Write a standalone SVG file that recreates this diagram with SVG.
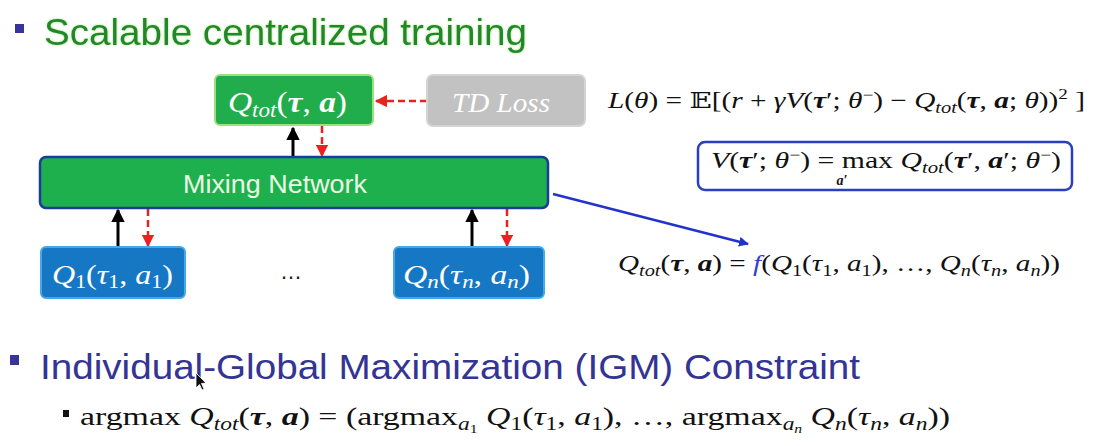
<svg xmlns="http://www.w3.org/2000/svg" width="1095" height="446" viewBox="0 0 1095 446">
  <defs>
    <style>
      .sans { font-family: "Liberation Sans", Arial, sans-serif; }
      .math { font-family: "Liberation Serif", "DejaVu Serif", serif; font-style: italic; }
      .up { font-style: normal; }
      .bi { font-weight: bold; font-style: italic; }
      .head1 { font-size: 36px; fill: #23862a; }
      .head2 { font-size: 35px; fill: #343494; }
      .boxtext { fill: #ffffff; }
      .formula { font-size: 23px; fill: #111111; }
      .bullet { fill: #37359a; }
      .qtot { fill: #22ad4c; stroke: #9be27e; stroke-width: 2; }
      .mix { fill: #1eb04c; stroke: #1b3c9e; stroke-width: 2.5; }
      .agent { fill: #1677c4; stroke: #44a9e8; stroke-width: 2; }
      .loss { fill: #c2c2c2; stroke: #d4d4d4; stroke-width: 2; }
      .fwd { stroke: #000000; stroke-width: 3; fill: none; }
      .grad { stroke: #e8231f; stroke-width: 2.5; stroke-dasharray: 7 4; fill: none; }
      .link { stroke: #2233cc; stroke-width: 2.5; fill: none; }
    </style>
    <marker id="head-black" viewBox="0 0 10 10" refX="9" refY="5" markerWidth="4.5" markerHeight="4.5" orient="auto">
      <path d="M0,0 L10,5 L0,10 z" fill="#000000"/>
    </marker>
    <marker id="head-red" viewBox="0 0 10 10" refX="9" refY="5" markerWidth="5" markerHeight="5" orient="auto">
      <path d="M0,0 L10,5 L0,10 z" fill="#e8231f"/>
    </marker>
    <marker id="head-blue" viewBox="0 0 10 10" refX="9" refY="5" markerWidth="4" markerHeight="4" orient="auto">
      <path d="M0,0 L10,5 L0,10 z" fill="#2233cc"/>
    </marker>
    <filter id="glow" x="-5%" y="-30%" width="110%" height="160%">
      <feGaussianBlur in="SourceAlpha" stdDeviation="1.2" result="b"/>
      <feFlood flood-color="#7de05a" flood-opacity="0.8"/>
      <feComposite in2="b" operator="in" result="g"/>
      <feMerge><feMergeNode in="g"/><feMergeNode in="SourceGraphic"/></feMerge>
    </filter>
  </defs>

  <rect width="1095" height="446" fill="#ffffff"/>

  <!-- section heading: centralized training -->
  <g id="heading-training">
    <rect x="15" y="24" width="9" height="9" class="bullet"/>
    <text x="44" y="45" class="sans head1" textLength="483" lengthAdjust="spacingAndGlyphs" filter="url(#glow)">Scalable centralized training</text>
  </g>

  <!-- connectors -->
  <g id="connectors">
    <line x1="427" y1="101" x2="376" y2="101" class="grad" marker-end="url(#head-red)"/>
    <line x1="293" y1="157" x2="293" y2="128" class="fwd" marker-end="url(#head-black)"/>
    <line x1="322" y1="126" x2="322" y2="156" class="grad" marker-end="url(#head-red)"/>
    <line x1="118" y1="247" x2="118" y2="210" class="fwd" marker-end="url(#head-black)"/>
    <line x1="148" y1="209" x2="148" y2="246" class="grad" marker-end="url(#head-red)"/>
    <line x1="472" y1="247" x2="472" y2="210" class="fwd" marker-end="url(#head-black)"/>
    <line x1="507" y1="209" x2="507" y2="246" class="grad" marker-end="url(#head-red)"/>
    <line x1="553" y1="194" x2="748" y2="244" class="link" marker-end="url(#head-blue)"/>
  </g>

  <g id="node-qtot">
    <rect x="215" y="75" width="158" height="50" rx="5" class="qtot"/>
    <text x="228" y="112" class="math boxtext" font-size="29" textLength="119" lengthAdjust="spacingAndGlyphs">Q<tspan font-size="20" dy="5">tot</tspan><tspan class="up" dy="-5">(</tspan><tspan class="bi">τ</tspan><tspan class="up">, </tspan><tspan class="bi">a</tspan><tspan class="up">)</tspan></text>
  </g>

  <g id="node-tdloss">
    <rect x="427" y="75" width="158" height="51" rx="6" class="loss"/>
    <text x="452" y="112" class="math boxtext" font-size="28" textLength="98" lengthAdjust="spacingAndGlyphs">TD Loss</text>
  </g>

  <g id="node-mixing">
    <rect x="40" y="157" width="508" height="51" rx="6" class="mix"/>
    <text x="183" y="193" class="sans" font-size="25" fill="#eafbe6" textLength="184" lengthAdjust="spacingAndGlyphs">Mixing Network</text>
  </g>

  <g id="node-agent-1">
    <rect x="41" y="247" width="144" height="51" rx="5" class="agent"/>
    <text x="52" y="284" class="math boxtext" font-size="28" textLength="121" lengthAdjust="spacingAndGlyphs">Q<tspan font-size="19" class="up" dy="4">1</tspan><tspan class="up" dy="-4">(</tspan>τ<tspan font-size="19" class="up" dy="4">1</tspan><tspan class="up" dy="-4">, </tspan>a<tspan font-size="19" class="up" dy="4">1</tspan><tspan class="up" dy="-4">)</tspan></text>
  </g>

  <g id="ellipsis">
    <text x="291" y="279" class="sans" font-size="22" fill="#111111" text-anchor="middle">…</text>
  </g>

  <g id="node-agent-n">
    <rect x="394" y="247" width="150" height="51" rx="5" class="agent"/>
    <text x="403" y="284" class="math boxtext" font-size="28" textLength="127" lengthAdjust="spacingAndGlyphs">Q<tspan font-size="19" dy="4">n</tspan><tspan class="up" dy="-4">(</tspan>τ<tspan font-size="19" dy="4">n</tspan><tspan class="up" dy="-4">, </tspan>a<tspan font-size="19" dy="4">n</tspan><tspan class="up" dy="-4">)</tspan></text>
  </g>

  <!-- TD loss formula -->
  <g id="formula-loss">
    <text x="608" y="108" class="math formula" textLength="477" lengthAdjust="spacingAndGlyphs">L<tspan class="up">(</tspan>θ<tspan class="up">) = 𝔼[(</tspan>r<tspan class="up"> + </tspan>γV<tspan class="up">(</tspan><tspan class="bi">τ</tspan><tspan class="up">′; </tspan>θ<tspan class="up" font-size="15" dy="-8">−</tspan><tspan class="up" dy="8">) − </tspan>Q<tspan font-size="16" dy="5">tot</tspan><tspan class="up" dy="-5">(</tspan><tspan class="bi">τ</tspan><tspan class="up">, </tspan><tspan class="bi">a</tspan><tspan class="up">; </tspan>θ<tspan class="up">))</tspan><tspan class="up" font-size="15" dy="-9">2</tspan><tspan class="up" dy="9"> ]</tspan></text>
  </g>

  <!-- target value definition -->
  <g id="formula-target">
    <rect x="698" y="142" width="374" height="48" rx="7" fill="#ffffff" stroke="#2a3fc0" stroke-width="2.5"/>
    <text x="711" y="168" class="math formula" textLength="350" lengthAdjust="spacingAndGlyphs">V<tspan class="up">(</tspan><tspan class="bi">τ</tspan><tspan class="up">′; </tspan>θ<tspan class="up" font-size="15" dy="-8">−</tspan><tspan class="up" dy="8">) = max </tspan>Q<tspan font-size="16" dy="5">tot</tspan><tspan class="up" dy="-5">(</tspan><tspan class="bi">τ</tspan><tspan class="up">′, </tspan><tspan class="bi">a</tspan><tspan class="up">′; </tspan>θ<tspan class="up" font-size="15" dy="-8">−</tspan><tspan class="up" dy="8">)</tspan></text>
    <text x="842" y="185" class="math bi" font-size="14" fill="#111111" text-anchor="middle">a′</text>
  </g>

  <!-- mixing function -->
  <g id="formula-mixing">
    <text x="618" y="271" class="math formula" textLength="442" lengthAdjust="spacingAndGlyphs">Q<tspan font-size="16" dy="5">tot</tspan><tspan class="up" dy="-5">(</tspan><tspan class="bi">τ</tspan><tspan class="up">, </tspan><tspan class="bi">a</tspan><tspan class="up">) = </tspan><tspan fill="#3340c8">f</tspan><tspan class="up">(</tspan>Q<tspan class="up" font-size="16" dy="5">1</tspan><tspan class="up" dy="-5">(</tspan>τ<tspan class="up" font-size="16" dy="5">1</tspan><tspan class="up" dy="-5">, </tspan>a<tspan class="up" font-size="16" dy="5">1</tspan><tspan class="up" dy="-5">), …, </tspan>Q<tspan font-size="16" dy="5">n</tspan><tspan class="up" dy="-5">(</tspan>τ<tspan font-size="16" dy="5">n</tspan><tspan class="up" dy="-5">, </tspan>a<tspan font-size="16" dy="5">n</tspan><tspan class="up" dy="-5">))</tspan></text>
  </g>

  <!-- section heading: IGM -->
  <g id="heading-igm">
    <rect x="10" y="355" width="9" height="10" class="bullet"/>
    <text x="40" y="379" class="sans head2" textLength="820" lengthAdjust="spacingAndGlyphs">Individual-Global Maximization (IGM) Constraint</text>
    <path d="M196,373 L196,388 L199.5,384.5 L202,390 L204,389 L201.5,383.5 L206,383 z" fill="#111111" stroke="#ffffff" stroke-width="0.8"/>
  </g>

  <!-- IGM condition -->
  <g id="formula-igm">
    <rect x="63" y="410" width="6" height="7" fill="#111111"/>
    <text x="80" y="425" class="math" font-size="26" fill="#111111" textLength="870" lengthAdjust="spacingAndGlyphs"><tspan class="up">argmax </tspan>Q<tspan font-size="18" dy="5">tot</tspan><tspan class="up" dy="-5">(</tspan><tspan class="bi">τ</tspan><tspan class="up">, </tspan><tspan class="bi">a</tspan><tspan class="up">) = (argmax</tspan><tspan font-size="18" dy="5">a</tspan><tspan font-size="12" class="up" dy="3">1</tspan><tspan dy="-8"> Q</tspan><tspan class="up" font-size="18" dy="5">1</tspan><tspan class="up" dy="-5">(</tspan>τ<tspan class="up" font-size="18" dy="5">1</tspan><tspan class="up" dy="-5">, </tspan>a<tspan class="up" font-size="18" dy="5">1</tspan><tspan class="up" dy="-5">), …, argmax</tspan><tspan font-size="18" dy="5">a</tspan><tspan font-size="12" dy="3">n</tspan><tspan dy="-8"> Q</tspan><tspan font-size="18" dy="5">n</tspan><tspan class="up" dy="-5">(</tspan>τ<tspan font-size="18" dy="5">n</tspan><tspan class="up" dy="-5">, </tspan>a<tspan font-size="18" dy="5">n</tspan><tspan class="up" dy="-5">))</tspan></text>
    <text x="131" y="456" class="math bi" font-size="20" fill="#111111" text-anchor="middle">a</text>
  </g>
</svg>
